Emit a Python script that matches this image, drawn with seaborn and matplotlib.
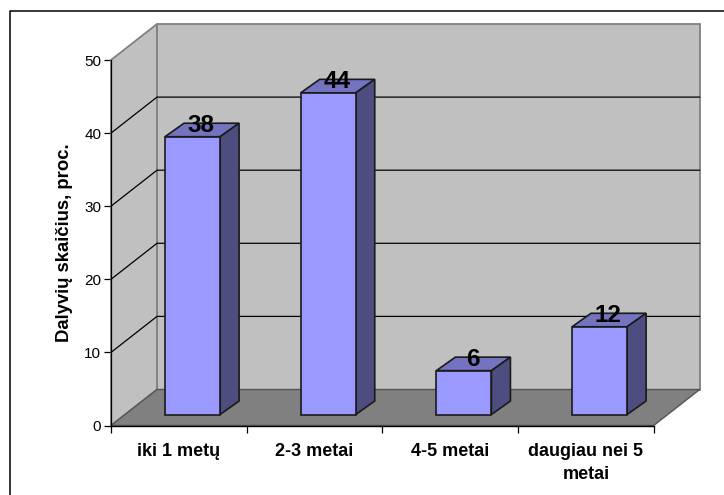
import matplotlib
matplotlib.use("Agg")
import matplotlib.pyplot as plt
from matplotlib.lines import Line2D
from matplotlib.patches import Polygon
import seaborn as sns
import pandas as pd

categories = ["iki 1 metų", "2-3 metai", "4-5 metai", "daugiau nei 5\nmetai"]
values = [38, 44, 6, 12]
y_ticks = [0, 10, 20, 30, 40, 50]

W, H = 724, 495
sns.set_theme(style="white")
plt.rcParams['font.family'] = ['Liberation Sans', 'DejaVu Sans']

fig = plt.figure(figsize=(W / 100, H / 100), dpi=100, facecolor="white")

def box(x0, ytop, x1, ybot):
    return [x0 / W, 1 - ybot / H, (x1 - x0) / W, (ybot - ytop) / H]

FX0, FX1, FY0, FY1 = 111.0, 653.7, 425.5, 60.0
DX, DY = 46.0, 36.0
BSX, BSY = 13.7, 11.0
BDX, BDY = 19.0, 13.5

# outer frame: only its top and left edges fall inside the picture
fx, fy = 9.5 / W, 1 - 11 / H
fig.add_artist(Line2D([1, fx, fx], [fy, fy, 0], color="black", lw=1.1, transform=fig.transFigure))

ax = fig.add_axes(box(FX0, FY1, FX1, FY0))
ax.set_facecolor("none")
ax.set_xlim(-0.5, 3.5)
ax.set_ylim(0, 50)
ux = (FX1 - FX0) / 4
uy = (FY0 - FY1) / 50
ddx, ddy = DX / ux, DY / uy

ymax = y_ticks[-1]
K = dict(clip_on=False)
# walls and floor
ax.add_patch(Polygon([(-0.5 + ddx, ddy), (3.5 + ddx, ddy), (3.5 + ddx, ymax + ddy), (-0.5 + ddx, ymax + ddy)],
                     fc="#C0C0C0", ec="#808080", lw=1.3, zorder=1, **K))
ax.add_patch(Polygon([(-0.5, 0), (-0.5 + ddx, ddy), (-0.5 + ddx, ymax + ddy), (-0.5, ymax)],
                     fc="#C0C0C0", ec="#808080", lw=1.3, zorder=1, **K))
ax.add_patch(Polygon([(-0.5, 0), (3.5, 0), (3.5 + ddx, ddy), (-0.5 + ddx, ddy)],
                     fc="#808080", ec="#555555", lw=1.0, zorder=1.1, **K))
for t in y_ticks[1:-1]:
    ax.plot([-0.5, -0.5 + ddx, 3.5 + ddx], [t, t + ddy, t + ddy], color="black", lw=0.9, zorder=1.2, **K)

ax.set_xticks([-0.5, 0.5, 1.5, 2.5, 3.5])
ax.set_xticklabels([])
ax.set_xticks(range(4), minor=True)
ax.set_xticklabels(categories, minor=True, fontsize=13, fontweight="bold", color="black", linespacing=1.48)
ax.set_yticks(y_ticks)
ax.set_yticklabels([str(t) for t in y_ticks], fontsize=11, color="black")
ax.tick_params(axis="x", which="major", length=5, width=0.9, color="black", bottom=True)
ax.tick_params(axis="x", which="minor", length=0, pad=12.5)
ax.tick_params(axis="y", length=5, width=0.9, color="black", left=True, pad=2)
for s in ["top", "right"]:
    ax.spines[s].set_visible(False)
ax.spines["left"].set_color("black")
ax.spines["bottom"].set_color("black")
ax.spines["left"].set_linewidth(0.9)
ax.spines["bottom"].set_linewidth(1.0)
ax.set_ylabel("Dalyvių skaičius, proc.", fontsize=13.3, fontweight="bold", color="black")
ax.yaxis.set_label_coords((73 - FX0) / (FX1 - FX0), 0.5)

# bars on the plane a little behind the front edge
axb = fig.add_axes(box(FX0 + BSX, FY1 - BSY, FX1 + BSX, FY0 - BSY))
axb.set_facecolor("none")
df = pd.DataFrame({"cat": categories, "val": values})
sns.barplot(data=df, x="cat", y="val", ax=axb, color="#9999FF", saturation=1, width=0.406,
            edgecolor="#1a1a1a", linewidth=1.2, zorder=3)
axb.set_xlim(-0.5, 3.5)
axb.set_ylim(0, 50)
axb.axis("off")
bx, by = BDX / ux, BDY / uy
for p, v in zip(axb.patches, values):
    x0 = p.get_x()
    x1 = x0 + p.get_width()
    axb.add_patch(Polygon([(x0, v), (x1, v), (x1 + bx, v + by), (x0 + bx, v + by)],
                          fc="#7373BF", ec="#1a1a1a", lw=1.2, zorder=2.9, clip_on=False))
    axb.add_patch(Polygon([(x1, 0), (x1 + bx, by), (x1 + bx, v + by), (x1, v)],
                          fc="#4D4D80", ec="#1a1a1a", lw=1.2, zorder=2.9, clip_on=False))
    p.set_clip_on(False)
    axb.text((x0 + x1) / 2 + bx * 0.45, v + by * 0.85, str(v), ha="center", va="center",
             fontsize=17.5, fontweight="bold", color="black", zorder=5, clip_on=False)

fig.savefig("out.png", dpi=100, facecolor="white")
